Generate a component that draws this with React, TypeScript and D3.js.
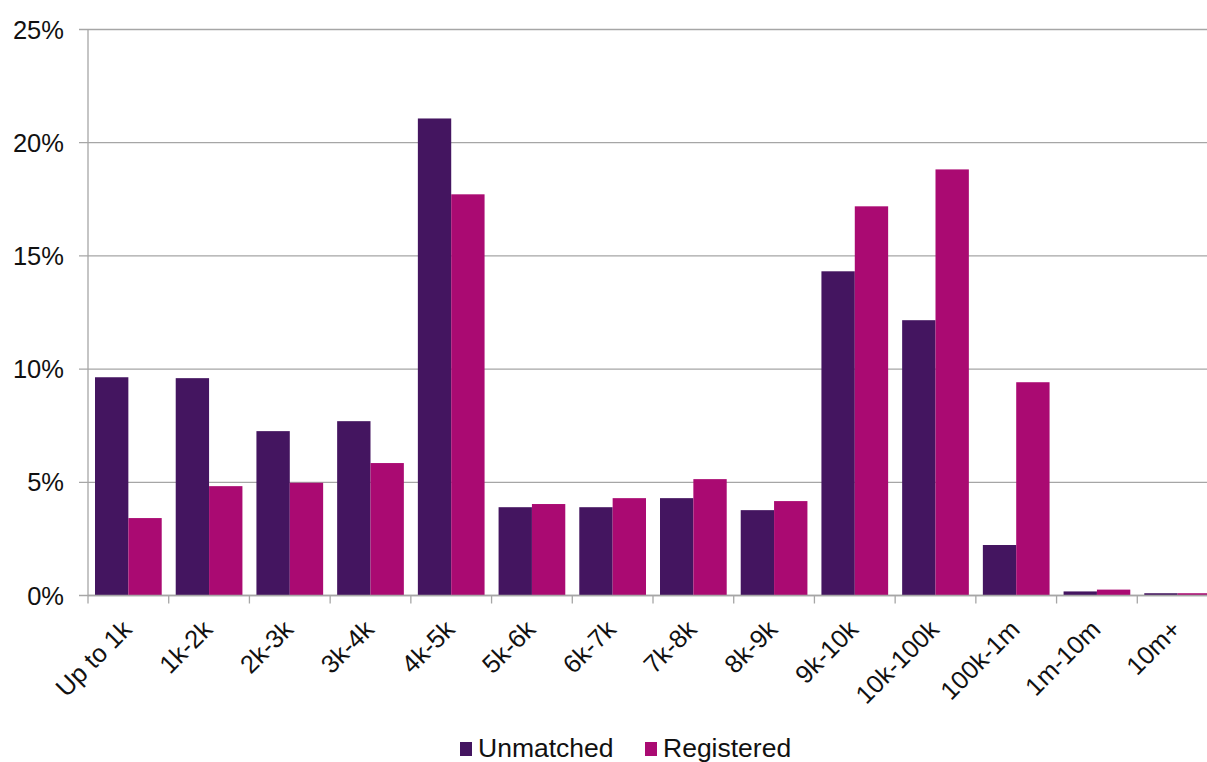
import React from "react";
import * as d3 from "d3";

const categories = [
  "Up to 1k",
  "1k-2k",
  "2k-3k",
  "3k-4k",
  "4k-5k",
  "5k-6k",
  "6k-7k",
  "7k-8k",
  "8k-9k",
  "9k-10k",
  "10k-100k",
  "100k-1m",
  "1m-10m",
  "10m+",
];
const seriesNames = ["Unmatched", "Registered"];
const unmatched = [9.64, 9.6, 7.26, 7.7, 21.07, 3.9, 3.9, 4.3, 3.77, 14.32, 12.16, 2.23, 0.18, 0.1];
const registered = [3.42, 4.83, 4.98, 5.85, 17.72, 4.04, 4.3, 5.14, 4.17, 17.19, 18.82, 9.42, 0.26, 0.1];
const yTicks = [0, 5, 10, 15, 20, 25];
const colors = ["#441560", "#aa0a72"];

const W = 1207;
const H = 762;
const FONT = "'Liberation Sans', Arial, sans-serif";

const App = () => {
  // plot area (the right edge runs past the picture, as in the original)
  const left = 88;
  const right = 1218;
  const top = 29.5;
  const bottom = 595.5;

  const x = d3.scaleBand<string>().domain(categories).range([left, right]).padding(0);
  const xSub = d3
    .scaleBand<string>()
    .domain(seriesNames)
    .range([0, x.bandwidth()])
    .paddingInner(0)
    .paddingOuter(0.21);
  const y = d3.scaleLinear().domain([0, 25]).range([bottom, top]);

  const values = [unmatched, registered];
  const gridColor = "#a6a6a6";

  return (
    <svg
      width={W}
      height={H}
      style={{ position: "absolute", left: 0, top: 0, background: "#fff" }}
      fontFamily={FONT}
    >
      {/* gridlines + y labels */}
      {yTicks.map((t) => (
        <g key={t}>
          <line x1={79} x2={right} y1={y(t)} y2={y(t)} stroke={gridColor} strokeWidth={1.3} />
          <text x={64} y={y(t)} dy="0.36em" textAnchor="end" fontSize={25.5} fill="#111">
            {t}%
          </text>
        </g>
      ))}

      {/* bars */}
      {seriesNames.map((s, si) =>
        categories.map((c, ci) => (
          <rect
            key={s + c}
            x={(x(c) ?? 0) + (xSub(s) ?? 0)}
            y={y(values[si][ci])}
            width={xSub.bandwidth()}
            height={bottom - y(values[si][ci])}
            fill={colors[si]}
          />
        ))
      )}

      {/* axes */}
      <line x1={left} x2={left} y1={top} y2={bottom} stroke={gridColor} strokeWidth={1.3} />
      <line x1={left} x2={right} y1={bottom} y2={bottom} stroke={gridColor} strokeWidth={1.3} />
      {categories.map((c) => (
        <line
          key={"t" + c}
          x1={x(c)}
          x2={x(c)}
          y1={bottom}
          y2={bottom + 8}
          stroke={gridColor}
          strokeWidth={1.3}
        />
      ))}

      {/* x labels */}
      {categories.map((c) => {
        const cx = (x(c) ?? 0) + x.bandwidth() / 2 + 5;
        const cy = 631;
        return (
          <text
            key={"l" + c}
            transform={`translate(${cx},${cy}) rotate(-45)`}
            textAnchor="end"
            fontSize={25.5}
            fill="#111"
          >
            {c}
          </text>
        );
      })}

      {/* legend */}
      <g>
        <rect x={460} y={742} width={12} height={14} fill={colors[0]} />
        <text x={478} y={757} fontSize={26.5} fill="#111">
          {seriesNames[0]}
        </text>
        <rect x={645} y={742} width={12} height={14} fill={colors[1]} />
        <text x={663} y={757} fontSize={26.5} fill="#111">
          {seriesNames[1]}
        </text>
      </g>
    </svg>
  );
};

export default App;
